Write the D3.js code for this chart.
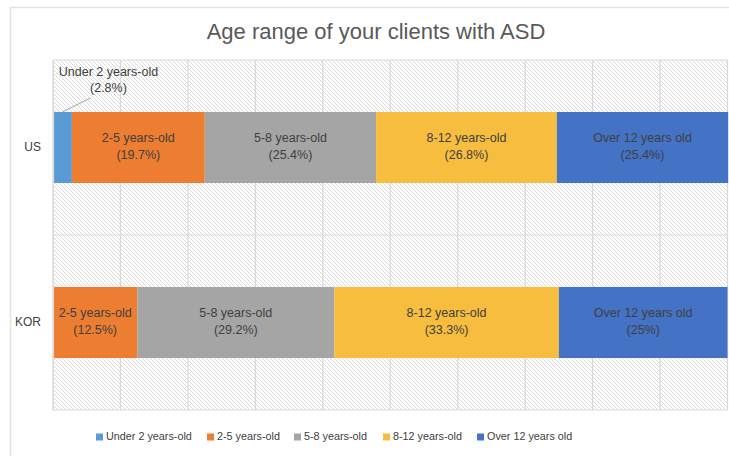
<!DOCTYPE html>
<html>
<head>
<meta charset="utf-8">
<script src="https://cdn.jsdelivr.net/npm/d3@7"></script>
<style>
  body { margin: 0; background: #fff; }
  text { font-family: "Liberation Sans", Arial, sans-serif; }
</style>
</head>
<body>
<script>
// chart data
var countries = ["US", "KOR"];
var ageGroups = ["Under 2 years-old", "2-5 years-old", "5-8 years-old", "8-12 years-old", "Over 12 years old"];
var usValues = [2.8, 19.7, 25.4, 26.8, 25.4];
var korValues = [0, 12.5, 29.2, 33.3, 25];
var groupColors = ["#5b9bd5", "#ed7d31", "#a5a5a5", "#f6bd3e", "#4472c4"];
var xTicks = [0, 10, 20, 30, 40, 50, 60, 70, 80, 90, 100];

var width = 729, height = 456;
var margin = {top: 60, right: 1.5, bottom: 46, left: 53};

var svg = d3.select("body").append("svg")
    .attr("width", width)
    .attr("height", height);

// hatched background pattern
var defs = svg.append("defs");
var pat = defs.append("pattern")
    .attr("id", "hatch")
    .attr("patternUnits", "userSpaceOnUse")
    .attr("width", 4).attr("height", 4);
pat.append("rect").attr("width", 4).attr("height", 4).attr("fill", "#fff");
pat.append("path")
    .attr("d", "M-1,-1 L5,5 M-1,3 L1,5 M3,-1 L5,1")
    .attr("stroke", "#d6d6d6")
    .attr("stroke-width", 0.9);

// outer chart frame
svg.append("rect")
    .attr("x", 10.5).attr("y", 7.5)
    .attr("width", 740).attr("height", 470)
    .attr("fill", "#fff")
    .attr("stroke", "#e3e3e3")
    .attr("stroke-width", 1.5);

svg.append("text")
    .attr("x", 376).attr("y", 33)
    .attr("text-anchor", "middle")
    .attr("dominant-baseline", "middle")
    .attr("fill", "#595959")
    .style("font-size", "22px")
    .text("Age range of your clients with ASD");

var x = d3.scaleLinear()
    .domain([0, 100])
    .range([margin.left, width - margin.right]);

var y = d3.scaleBand()
    .domain(countries)
    .range([margin.top, height - margin.bottom])
    .paddingInner(0.594)
    .paddingOuter(0.297);

var plot = svg.append("g");

plot.append("rect")
    .attr("x", x(0)).attr("y", y.range()[0])
    .attr("width", x(100) - x(0))
    .attr("height", y.range()[1] - y.range()[0])
    .attr("fill", "url(#hatch)");

// vertical gridlines
plot.selectAll(".vgrid")
    .data(xTicks)
  .enter().append("line")
    .attr("class", "vgrid")
    .attr("x1", function(d) { return x(d); })
    .attr("x2", function(d) { return x(d); })
    .attr("y1", y.range()[0])
    .attr("y2", y.range()[1])
    .attr("stroke", "#d9d9d9")
    .attr("stroke-width", 1.2);

// horizontal band lines
var bandEdges = [y.range()[0], y.range()[0] + y.step(), y.range()[1]];
plot.selectAll(".hgrid")
    .data(bandEdges)
  .enter().append("line")
    .attr("class", "hgrid")
    .attr("x1", x(0)).attr("x2", x(100))
    .attr("y1", function(d) { return d; })
    .attr("y2", function(d) { return d; })
    .attr("stroke", "#d9d9d9")
    .attr("stroke-width", 1.2);

// stacked data
var rows = countries.map(function(c, i) {
  var vals = i === 0 ? usValues : korValues;
  var acc = 0;
  return vals.map(function(v, j) {
    var seg = {country: c, group: ageGroups[j], value: v, x0: acc, x1: acc + v, color: groupColors[j]};
    acc += v;
    return seg;
  });
});
var segments = d3.merge(rows).filter(function(d) { return d.value > 0; });

plot.selectAll(".bar")
    .data(segments)
  .enter().append("rect")
    .attr("class", "bar")
    .attr("x", function(d) { return x(d.x0); })
    .attr("y", function(d) { return y(d.country); })
    .attr("width", function(d) { return x(d.x1) - x(d.x0); })
    .attr("height", y.bandwidth())
    .attr("fill", function(d) { return d.color; });

// labels inside bars
var labelled = segments.filter(function(d) { return d.value > 5; });
var lab = plot.selectAll(".lab")
    .data(labelled)
  .enter().append("text")
    .attr("class", "lab")
    .attr("text-anchor", "middle")
    .attr("fill", "#404040")
    .style("font-size", "12.5px")
    .attr("transform", function(d) {
      return "translate(" + (x(d.x0) + x(d.x1)) / 2 + "," + (y(d.country) + y.bandwidth() / 2) + ")";
    });
lab.append("tspan").attr("x", 0).attr("y", -8.5).attr("dominant-baseline", "middle")
    .text(function(d) { return d.group; });
lab.append("tspan").attr("x", 0).attr("y", 8.5).attr("dominant-baseline", "middle")
    .text(function(d) { return "(" + d.value + "%)"; });

// small segment label above with leader line
var small = segments.filter(function(d) { return d.value <= 5; });
small.forEach(function(d) {
  var cx = (x(d.x0) + x(d.x1)) / 2;
  var top = y(d.country);
  plot.append("line")
      .attr("x1", cx).attr("y1", top)
      .attr("x2", cx + 28).attr("y2", top - 14)
      .attr("stroke", "#a6a6a6")
      .attr("stroke-width", 1);
  var t = plot.append("text")
      .attr("text-anchor", "middle")
      .attr("fill", "#404040")
      .style("font-size", "12.5px")
      .attr("transform", "translate(" + (cx + 46) + "," + (top - 31) + ")");
  t.append("tspan").attr("x", 0).attr("y", -8).attr("dominant-baseline", "middle").text(d.group);
  t.append("tspan").attr("x", 0).attr("y", 8).attr("dominant-baseline", "middle").text("(" + d.value + "%)");
});

// category axis
var yAxis = svg.append("g")
    .attr("transform", "translate(" + x(0) + ",0)")
    .call(d3.axisLeft(y).tickSize(0).tickPadding(12));
yAxis.select(".domain").attr("stroke", "#d9d9d9").attr("stroke-width", 1.2);
yAxis.selectAll("text")
    .attr("fill", "#404040")
    .style("font-size", "12px")
    .style("font-family", "Liberation Sans, Arial, sans-serif");

// legend
var legendX = [96, 207, 294, 383, 477];
var legend = svg.selectAll(".leg")
    .data(ageGroups)
  .enter().append("g")
    .attr("class", "leg")
    .attr("transform", function(d, i) { return "translate(" + legendX[i] + ",437)"; });
legend.append("rect")
    .attr("x", 0).attr("y", -3.5)
    .attr("width", 7).attr("height", 7)
    .attr("fill", function(d, i) { return groupColors[i]; });
legend.append("text")
    .attr("x", 10).attr("y", 0.5)
    .attr("dominant-baseline", "middle")
    .attr("fill", "#404040")
    .style("font-size", "10.8px")
    .text(function(d) { return d; });
</script>
</body>
</html>
